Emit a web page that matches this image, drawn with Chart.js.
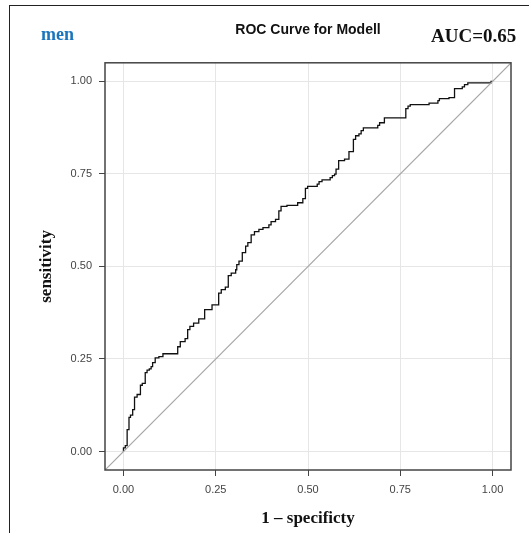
<!DOCTYPE html>
<html>
<head>
<meta charset="utf-8">
<script src="https://cdn.jsdelivr.net/npm/chart.js@4"></script>
<style>
  body { margin: 0; background: #fff; }
  #wrap { position: relative; width: 529px; height: 533px; overflow: hidden; }
  #frame { position: absolute; left: 9px; top: 5px; width: 600px; height: 600px; border-left: 1px solid #222; border-top: 1px solid #222; }
  canvas { position: absolute; left: 0; top: 0; }
  .lbl { position: absolute; font-family: "Liberation Serif", serif; font-weight: bold; white-space: nowrap; line-height: 1; }
  #men { left: 41px; top: 25px; font-size: 18px; color: #1a75bc; }
  #auc { left: 431px; top: 26px; font-size: 19px; color: #111; }
</style>
</head>
<body>
<div id="wrap">
  <div id="frame"></div>
  <canvas id="roc" width="529" height="533"></canvas>
  <div class="lbl" id="men">men</div>
  <div class="lbl" id="auc">AUC=0.65</div>
</div>
<script>
// Courbe ROC (1 - spécificité, sensibilité)
const fpr = [0, 0, 0.005, 0.010, 0.015, 0.019, 0.025, 0.030, 0.037, 0.046, 0.051, 0.059, 0.064, 0.070, 0.075, 0.079,
  0.086, 0.096, 0.107, 0.147, 0.154, 0.167, 0.174, 0.180, 0.190, 0.204, 0.220, 0.240, 0.258, 0.265, 0.276, 0.284,
  0.292, 0.304, 0.307, 0.313, 0.322, 0.331, 0.337, 0.346, 0.355, 0.367, 0.378, 0.394, 0.400, 0.412, 0.421, 0.427,
  0.443, 0.472, 0.486, 0.493, 0.499, 0.525, 0.530, 0.538, 0.560, 0.566, 0.572, 0.576, 0.583, 0.599, 0.611, 0.623,
  0.629, 0.638, 0.644, 0.650, 0.689, 0.694, 0.707, 0.765, 0.771, 0.777, 0.828, 0.852, 0.856, 0.882, 0.897, 0.918,
  0.924, 0.933, 0.996, 1];
const tpr = [0, 0.010, 0.016, 0.059, 0.092, 0.098, 0.113, 0.147, 0.154, 0.179, 0.184, 0.213, 0.220, 0.223, 0.229, 0.240,
  0.253, 0.256, 0.264, 0.283, 0.297, 0.305, 0.329, 0.338, 0.347, 0.358, 0.383, 0.396, 0.428, 0.437, 0.444, 0.475,
  0.482, 0.491, 0.505, 0.514, 0.537, 0.555, 0.564, 0.585, 0.594, 0.600, 0.605, 0.612, 0.621, 0.627, 0.650, 0.662,
  0.665, 0.672, 0.683, 0.711, 0.716, 0.722, 0.729, 0.734, 0.740, 0.745, 0.749, 0.763, 0.786, 0.790, 0.810, 0.843,
  0.853, 0.858, 0.867, 0.874, 0.881, 0.888, 0.901, 0.926, 0.933, 0.937, 0.941, 0.948, 0.953, 0.956, 0.980, 0.985,
  0.991, 0.996, 1.000, 1];

// Diagonale de référence
const diagX = [-0.05, 1.05];
const diagY = [-0.05, 1.05];

const tickVals = [0, 0.25, 0.5, 0.75, 1];

const plotBorder = {
  id: 'plotBorder',
  afterDatasetsDraw(chart) {
    const { ctx, chartArea: a } = chart;
    ctx.save();
    ctx.strokeStyle = '#444';
    ctx.lineWidth = 1.5;
    ctx.strokeRect(a.left, a.top, a.right - a.left, a.bottom - a.top);
    ctx.restore();
  }
};

const tickFont = { family: 'Liberation Sans', size: 11 };
const titleFont = { family: 'Liberation Serif', size: 17, weight: 'bold' };

const chartRoc = new Chart(document.getElementById('roc').getContext('2d'), {
  type: 'scatter',
  data: {
    datasets: [
      {
        label: 'diagonale',
        data: diagX.map((x, i) => ({ x: x, y: diagY[i] })),
        showLine: true,
        borderColor: '#a6a6a6',
        borderWidth: 1.2,
        pointRadius: 0
      },
      {
        label: 'ROC',
        data: fpr.map((x, i) => ({ x: x, y: tpr[i] })),
        showLine: true,
        stepped: 'before',
        borderColor: '#111',
        borderWidth: 1.3,
        pointRadius: 0
      }
    ]
  },
  options: {
    responsive: false,
    animation: false,
    layout: { padding: { left: 0, right: 18, top: 0, bottom: 0 } },
    scales: {
      x: {
        type: 'linear',
        min: -0.05,
        max: 1.05,
        afterBuildTicks: s => { s.ticks = tickVals.map(v => ({ value: v })); },
        afterFit: s => { s.height = 63; },
        ticks: { callback: v => v.toFixed(2), color: '#444', font: tickFont, padding: 7, maxRotation: 0, autoSkip: false },
        grid: { color: '#e6e6e6', tickColor: '#444', tickLength: 6 },
        border: { display: false },
        title: { display: true, text: '1 – specificty', color: '#111', font: titleFont, padding: { top: 0, bottom: 4 } }
      },
      y: {
        type: 'linear',
        min: -0.05,
        max: 1.05,
        afterBuildTicks: s => { s.ticks = tickVals.map(v => ({ value: v })); },
        afterFit: s => { s.width = 105; },
        ticks: { callback: v => v.toFixed(2), color: '#444', font: tickFont, padding: 7, autoSkip: false },
        grid: { color: '#e6e6e6', tickColor: '#444', tickLength: 6 },
        border: { display: false },
        title: { display: true, text: 'sensitivity', color: '#111', font: titleFont, padding: { top: 36, bottom: 0 } }
      }
    },
    plugins: {
      legend: { display: false },
      tooltip: { enabled: false },
      title: {
        display: true,
        fullSize: false,
        text: 'ROC Curve for Modell',
        color: '#111',
        font: { family: 'Liberation Sans', size: 14, weight: 'bold' },
        padding: { top: 22, bottom: 24 }
      }
    }
  },
  plugins: [plotBorder]
});
</script>
</body>
</html>
